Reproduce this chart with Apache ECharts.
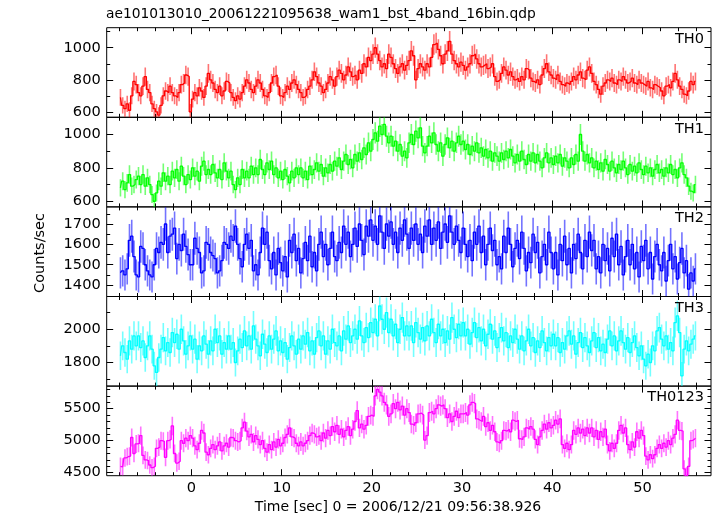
<!DOCTYPE html>
<html><head><meta charset="utf-8">
<script src="https://cdn.jsdelivr.net/npm/echarts@6/dist/echarts.min.js"></script>
<style>html,body{margin:0;padding:0;background:#fff}#c{width:717px;height:516px}</style>
</head><body><div id="c"></div>
<script>
// time grid: bin centres, 0.25 s bins
const t0 = -7.875, binWidth = 0.25;

const th0 = [
690,640,620,650,610,700,790,770, 720,700,760,820,740,720,650,620,
600,580,640,700,730,720,760,720, 700,690,720,770,780,830,820,600,
680,720,700,750,730,690,760,840, 800,780,740,720,760,700,730,790,
780,720,690,670,700,680,720,760, 800,780,740,720,760,800,780,740,
700,690,720,780,820,830,760,700, 690,720,760,740,780,800,770,740,
720,690,700,740,760,800,850,820, 780,760,720,740,780,820,800,760,
820,860,840,800,830,880,850,820, 830,800,860,840,900,880,940,920,
960,1000,960,920,880,900,870,960, 940,900,870,840,880,900,860,890,
920,980,950,800,870,900,880,860, 900,880,940,1020,1030,990,950,900,
960,980,1040,960,920,900,880,910, 890,860,880,900,950,960,930,900,
880,890,900,870,880,900,820,790, 800,840,880,860,830,850,820,800,
810,790,820,800,870,860,810,790, 780,800,770,830,870,900,850,830,
810,800,830,790,770,760,780,770, 790,820,800,830,850,810,800,860,
880,840,790,770,740,710,760,780, 800,790,810,780,770,800,790,820,
800,780,790,810,780,770,800,780, 770,760,790,750,740,770,760,750,
730,700,760,770,750,790,840,800, 760,740,710,700,730,790,770,790
];
const th1 = [
680,720,670,710,760,690,700,730, 750,700,760,690,740,700,640,600,
650,720,690,770,720,750,700,780, 740,790,720,810,750,700,760,730,
800,750,780,720,810,840,760,790, 760,820,770,740,790,730,830,780,
740,780,700,670,740,700,790,740, 780,740,810,760,800,760,850,790,
760,830,790,840,760,800,740,780, 730,790,750,710,780,740,800,760,
800,740,780,730,810,760,790,830, 780,820,750,800,770,820,780,840,
810,860,790,840,880,820,850,800, 880,840,890,850,920,880,950,900,
970,1010,960,1050,1000,1060,990,950, 990,930,960,900,940,870,900,860,
950,1000,940,1020,980,1040,930,890, 930,990,950,1010,940,900,950,870,
940,980,920,960,900,950,990,940, 960,910,940,880,930,900,950,890,
920,870,910,860,900,840,890,870, 840,890,850,900,860,910,870,830,
880,840,900,850,820,880,840,890, 830,880,840,800,860,890,830,860,
820,870,830,880,810,860,840,800, 860,820,880,840,1000,900,840,880,
830,860,800,840,790,830,780,850, 820,780,840,800,770,820,790,840,
800,760,820,780,810,770,830,790, 760,810,770,800,750,790,820,770,
790,750,800,770,820,760,790,740, 800,830,760,740,690,660,650,700
];
const th2 = [
1460,1470,1450,1480,1620,1640,1540,1450, 1440,1590,1580,1500,1470,1450,1440,1500,
1580,1560,1610,1600,1700,1560,1640,1650, 1680,1530,1600,1570,1650,1590,1550,1500,
1500,1630,1580,1560,1460,1470,1610,1600, 1560,1545,1530,1460,1470,1520,1610,1600,
1580,1640,1620,1690,1600,1530,1490,1600, 1650,1580,1620,1470,1500,1450,1560,1680,
1600,1660,1520,1480,1560,1450,1580,1510, 1470,1540,1440,1620,1560,1650,1520,1580,
1460,1530,1610,1520,1640,1490,1560,1470, 1600,1660,1540,1600,1500,1580,1660,1540,
1520,1610,1560,1690,1600,1660,1540,1600, 1680,1590,1700,1620,1550,1690,1640,1720,
1620,1690,1600,1740,1660,1580,1700,1640, 1710,1600,1660,1560,1680,1620,1720,1650,
1580,1680,1620,1700,1600,1650,1560,1690, 1640,1720,1600,1680,1620,1710,1580,1660,
1700,1610,1740,1660,1600,1690,1620,1560, 1680,1600,1540,1620,1520,1660,1600,1690,
1560,1640,1500,1600,1680,1570,1620,1500, 1540,1480,1640,1560,1680,1600,1490,1580,
1620,1530,1660,1580,1470,1560,1510,1650, 1560,1610,1460,1540,1600,1500,1660,1560,
1480,1560,1450,1600,1520,1640,1500,1580, 1460,1600,1530,1650,1560,1480,1620,1540,
1660,1570,1620,1480,1540,1460,1600,1520, 1580,1470,1630,1540,1650,1500,1590,1450,
1540,1620,1500,1600,1480,1560,1440,1590, 1520,1620,1480,1560,1430,1540,1600,1500,
1470,1560,1420,1520,1600,1480,1540,1430, 1510,1580,1460,1520,1380,1460,1420,1480
];
const th3 = [
1840,1900,1860,1820,1930,1880,1960,1900, 1960,1890,1930,1830,1900,1960,1880,1780,
1740,1830,1880,1950,1870,1920,1860,1980, 1920,1970,1880,2000,1930,1850,1900,1960,
1880,1940,1820,1900,1870,1960,1910,1850, 1930,1870,2000,1920,1960,1850,1920,1880,
1960,1880,1920,1800,1870,1940,1890,1990, 1900,1960,1880,2020,1940,1900,1840,1970,
1910,1860,1960,1880,1940,1990,1870,1930, 1860,1920,1820,1890,1960,1900,1850,1940,
1880,1960,1910,1980,1870,1930,1850,1950, 1990,1900,1960,1850,1930,1880,2000,1920,
1900,1960,1870,1990,1940,2020,1920,1960, 2000,1940,2050,1960,1920,2010,1950,2040,
1980,2060,1960,2140,2060,2000,2100,1980, 2060,1960,2030,1920,2000,2070,1960,2020,
1960,2020,1920,2040,1980,1940,2010,1930, 2020,1960,2060,1980,1920,2030,1960,2000,
1920,1990,1940,2070,2000,1950,2030,1960, 2040,1960,2000,1910,1980,2040,1950,2010,
1930,2000,1900,1970,2030,1940,1990,1890, 1950,2010,1930,1980,1890,1960,1920,2000,
1940,1880,1960,1870,1930,2000,1900,1950, 1860,1930,1890,1990,1920,1870,1950,1900,
1970,1900,1950,1860,1920,1880,1960,1990, 1910,1960,1850,1920,1980,1890,1950,1900,
1860,1930,1980,1890,1950,1870,1910,1860, 1940,1990,1900,1960,1870,1930,1990,1920,
1880,1950,1860,1920,1960,1890,1840,1900, 1820,1780,1850,1800,1900,1870,1990,2010,
1940,1900,1960,1880,1920,1870,2040,2080, 1980,1720,1880,1930,1870,1910,1940,1960
];
const th0123 = [
4600,4590,4730,4750,4760,5050,4800,4950, 4960,5080,4770,4700,4690,4620,4580,4600,
4880,4900,5000,4990,4740,5000,5020,5230, 4800,4650,4680,5000,4960,5040,5000,5080,
5040,4920,4860,4960,5160,5120,4820,4780, 4880,4940,4860,4920,4980,4840,4920,4960,
4900,5050,5040,5000,4980,5000,5200,5290, 5150,5060,5100,4980,5080,5020,4940,5000,
4880,4820,4940,4860,4980,4900,5020,4920, 4960,5050,5100,5200,5060,5040,4960,4920,
4980,4920,4960,5000,5080,5120,5100,5060, 5080,5000,5120,5040,5160,5080,5220,5140,
5240,5100,5180,5060,5160,5220,5080,5180, 5300,5470,5200,5260,5180,5240,5380,5400,
5380,5700,5800,5760,5700,5600,5560,5380, 5420,5580,5500,5600,5480,5540,5400,5500,
5440,5260,5240,5280,5420,5430,5400,5010, 5080,5440,5460,5420,5500,5560,5540,5560,
5500,5360,5420,5300,5380,5460,5360,5420, 5420,5440,5400,5560,5600,5580,5340,5320,
5300,5380,5220,5280,5160,5240,5140,4980, 4960,5000,5160,5150,5180,5140,5320,5300,
5320,5030,5020,5060,5200,5180,5220,5180, 5020,4940,5060,5160,5260,5180,5280,5200,
5240,5320,5260,5340,4940,4880,4960,4860, 4940,5160,5100,5200,5120,5180,5080,5200,
5120,5200,5060,5160,5020,5140,5060,5180, 4940,4840,4960,4880,4960,5160,5240,5120,
5200,4940,4860,4980,4900,5140,5040,5160, 5080,4760,4700,4780,4720,4780,4880,4940,
4880,4960,4900,5000,4940,5040,5100,5320, 5160,5150,4560,4450,4600,5000,5020,5040
];

const panelNames = ['TH0','TH1','TH2','TH3','TH0123'];
const panelColors = ['#ff0000','#00ff00','#0000ff','#00ffff','#ff00ff'];
const panelData = [th0, th1, th2, th3, th0123];
const yMin = [566, 566, 1344, 1658, 4453];
const yMax = [1125, 1103, 1784, 2197, 5853];
const yMajor = [[600,800,1000],[600,800,1000],[1400,1500,1600,1700],[1800,2000],[4500,5000,5500]];
const yMinor = [[700,900,1100],[700,900],[1450,1550,1650,1750],[1700,1900,2100],[4600,4700,4800,4900,5100,5200,5300,5400,5600,5700,5800]];
const xMajor = [0,10,20,30,40,50];
const xMinor = [-8,-6,-4,-2,2,4,6,8,12,14,16,18,22,24,26,28,32,34,36,38,42,44,46,48,52,54,56];
const xMin = -9.4, xMax = 57.6;
const titleText = 'ae101013010_20061221095638_wam1_bst_4band_16bin.qdp';
const xTitle = 'Time [sec] 0 = 2006/12/21 09:56:38.926';
const yTitle = 'Counts/sec';

const FONT = 'DejaVu Sans';
const chart = echarts.init(document.getElementById('c'), null, {renderer: 'canvas'});
const grids = [], xAxes = [], yAxes = [], series = [], graphics = [];
const top0 = 27.7, ph = 89.6, gLeft = 106.7, gRight = 6;
const plain = v => String(v);

for (let i = 0; i < 5; i++) {
  const top = top0 + i * ph;
  grids.push({left: gLeft, right: gRight, top: top, height: ph, show: true,
    borderColor: '#000', borderWidth: 1, backgroundColor: 'rgba(0,0,0,0)'});
  const xb = {gridIndex: i, type: 'value', min: xMin, max: xMax,
    axisLine: {show: false, onZero: false}, splitLine: {show: false}};
  for (const pos of ['bottom', 'top']) {
    xAxes.push(Object.assign({}, xb, {position: pos,
      axisTick: {show: true, inside: true, length: 6.5, customValues: xMajor, lineStyle: {color: '#000'}},
      axisLabel: {show: pos === 'bottom' && i === 4, customValues: xMajor, fontSize: 14.6,
        fontFamily: FONT, color: '#000', margin: 5, formatter: plain}}));
    xAxes.push(Object.assign({}, xb, {position: pos,
      axisTick: {show: true, inside: true, length: 3.5, customValues: xMinor, lineStyle: {color: '#000'}},
      axisLabel: {show: false}}));
  }
  const yb = {gridIndex: i, type: 'value', min: yMin[i], max: yMax[i],
    axisLine: {show: false, onZero: false}, splitLine: {show: false}};
  for (const pos of ['left', 'right']) {
    yAxes.push(Object.assign({}, yb, {position: pos,
      axisTick: {show: true, inside: true, length: 6.5, customValues: yMajor[i], lineStyle: {color: '#000'}},
      axisLabel: {show: pos === 'left', customValues: yMajor[i], fontSize: 14.6,
        fontFamily: FONT, color: '#000', margin: 6, formatter: plain}}));
    yAxes.push(Object.assign({}, yb, {position: pos,
      axisTick: {show: true, inside: true, length: 3.5, customValues: yMinor[i], lineStyle: {color: '#000'}},
      axisLabel: {show: false}}));
  }
  const vals = panelData[i];
  const color = panelColors[i];
  const pts = vals.map((v, k) => [t0 + k * binWidth, v]);
  const errs = vals.map((v, k) => [t0 + k * binWidth, v, Math.sqrt(v / binWidth)]);
  series.push({type: 'custom', xAxisIndex: 4 * i, yAxisIndex: 4 * i, data: errs, clip: true,
    animation: false, z: 2,
    renderItem: (params, api) => {
      const x = api.value(0), v = api.value(1), e = api.value(2);
      const p1 = api.coord([x, v - e]), p2 = api.coord([x, v + e]);
      return {type: 'line', shape: {x1: p1[0], y1: p1[1], x2: p2[0], y2: p2[1]},
        style: {stroke: color, lineWidth: 1.6, opacity: 0.55}};
    }});
  series.push({type: 'line', xAxisIndex: 4 * i, yAxisIndex: 4 * i, data: pts, step: 'middle',
    symbol: 'none', showSymbol: false, animation: false, clip: true, z: 3,
    lineStyle: {color: color, width: 1.3}, itemStyle: {color: color}});
  graphics.push({type: 'text', right: 13, top: top + 4, z: 10,
    style: {text: panelNames[i], fill: '#000', font: '14.5px "' + FONT + '"'}});
}

graphics.push({type: 'text', left: 106, top: 7, style: {text: titleText, fill: '#000', font: '13.8px "' + FONT + '"'}});
graphics.push({type: 'text', x: 398, y: 507, style: {text: xTitle, fill: '#000', font: '14px "' + FONT + '"', textAlign: 'center', textVerticalAlign: 'middle'}});
graphics.push({type: 'text', x: 40, y: 253, rotation: Math.PI / 2, style: {text: yTitle, fill: '#000', font: '14.5px "' + FONT + '"', textAlign: 'center', textVerticalAlign: 'middle'}});

chart.setOption({
  animation: false,
  backgroundColor: '#fff',
  grid: grids, xAxis: xAxes, yAxis: yAxes, series: series, graphic: graphics
});
</script></body></html>
